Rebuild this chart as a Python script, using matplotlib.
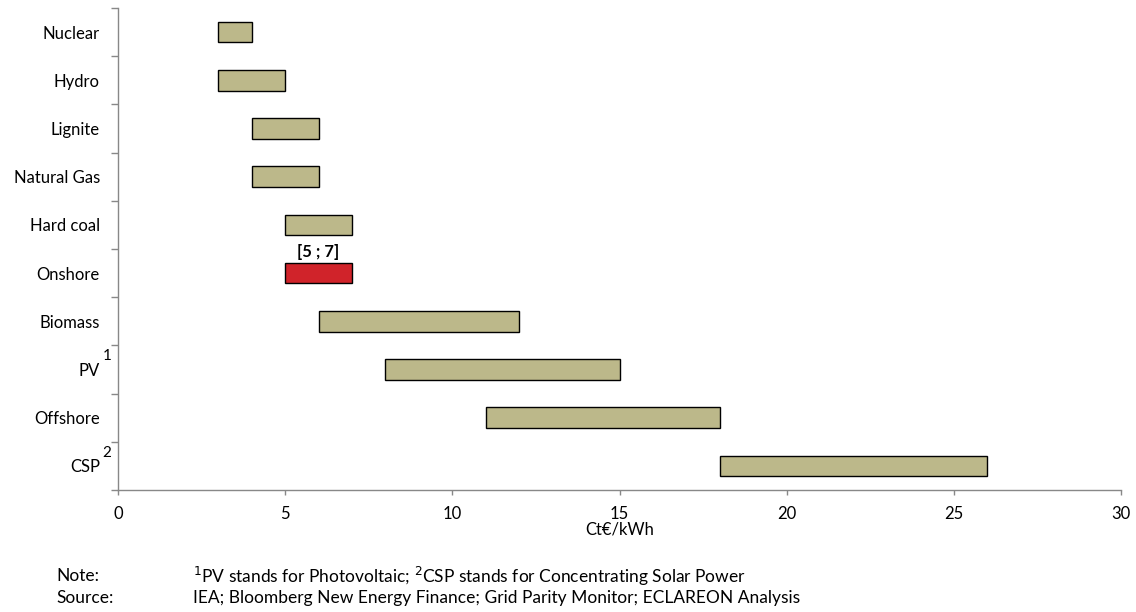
import matplotlib
matplotlib.use("Agg")
import matplotlib.pyplot as plt
from matplotlib.ticker import FixedLocator, NullFormatter

categories = ["Nuclear", "Hydro", "Lignite", "Natural Gas", "Hard coal",
              "Onshore", "Biomass", "PV", "Offshore", "CSP"]
low = [3, 3, 4, 4, 5, 5, 6, 8, 11, 18]
high = [4, 5, 6, 6, 7, 7, 12, 15, 18, 26]
superscripts = {"PV": "1", "CSP": "2"}
highlight = "Onshore"
x_ticks = [0, 5, 10, 15, 20, 25, 30]

plt.rcParams['font.family'] = ['Lato', 'DejaVu Sans']

fig = plt.figure(figsize=(11.36, 6.12), dpi=100)
ax = fig.add_axes([118 / 1136, 1 - 490 / 612, 1003 / 1136, 482 / 612])

n = len(categories)
ypos = list(range(n))
colors = ["#D0232A" if c == highlight else "#BCB88A" for c in categories]
widths = [h - l for l, h in zip(low, high)]
ax.barh(ypos, widths, left=low, height=0.43, color=colors,
        edgecolor="black", linewidth=1.0, zorder=3)

ax.set_ylim(n - 0.5, -0.5)
ax.set_xlim(0, 30)
ax.set_xticks(x_ticks)
ax.set_xticklabels([str(v) for v in x_ticks], fontsize=12)
ax.set_yticks(ypos)
ax.set_yticklabels(categories, fontsize=12)
ax.tick_params(axis='y', which='major', length=0, pad=13)
ax.yaxis.set_minor_locator(FixedLocator([i - 0.5 for i in range(n + 1)]))
ax.yaxis.set_minor_formatter(NullFormatter())
ax.tick_params(axis='y', which='minor', length=5, color="#888888", width=1)
ax.tick_params(axis='x', which='major', length=3.5, color="#888888", width=1, pad=8)

for side in ["top", "right"]:
    ax.spines[side].set_visible(False)
for side in ["left", "bottom"]:
    ax.spines[side].set_color("#888888")
    ax.spines[side].set_linewidth(1.0)

# superscripts for PV and CSP
for i, c in enumerate(categories):
    if c in superscripts:
        ax.annotate(superscripts[c], xy=(0, i), xycoords=('axes fraction', 'data'),
                    xytext=(-8, 9.5), textcoords='offset points',
                    fontsize=11, ha='center', va='center')

# onshore annotation
hi = categories.index(highlight)
ax.text((low[hi] + high[hi]) / 2, hi - 0.43, f"[{low[hi]} ; {high[hi]}]",
        ha='center', va='center', fontsize=12, fontweight='bold')

ax.set_xlabel("Ct€/kWh", fontsize=12, labelpad=0)

fig.text(56 / 1136, 1 - 576 / 612, "Note:", fontsize=12.5, va='center')
fig.text(193 / 1136, 1 - 576 / 612,
         "$^{1}$PV stands for Photovoltaic; $^{2}$CSP stands for Concentrating Solar Power",
         fontsize=12.5, va='center')
fig.text(56 / 1136, 1 - 598 / 612, "Source:", fontsize=12.5, va='center')
fig.text(193 / 1136, 1 - 598 / 612,
         "IEA; Bloomberg New Energy Finance; Grid Parity Monitor; ECLAREON Analysis",
         fontsize=12.5, va='center')

fig.savefig("out.png", dpi=100)
